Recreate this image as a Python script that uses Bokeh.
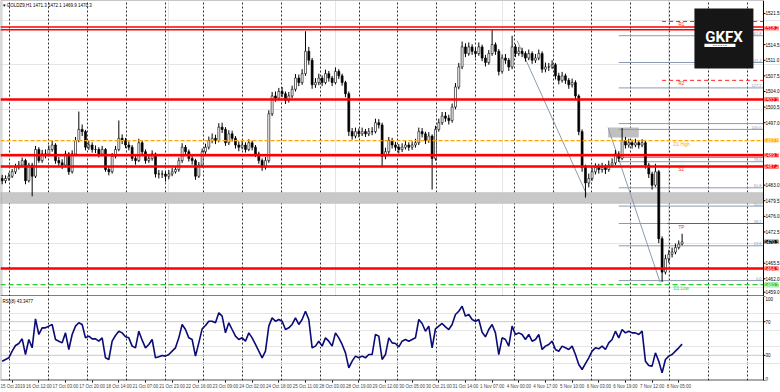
from bokeh.plotting import figure
from bokeh.layouts import column
from bokeh.models import (Range1d, FixedTicker, Label, BoxAnnotation, ColumnDataSource, Grid)
from bokeh.core.properties import value
from bokeh.embed import file_html
from bokeh.resources import INLINE

# ---------------- data (2-hour bars) ----------------
close = [
    1484.0, 1484.5, 1485.0, 1486.0, 1487.0, 1487.5, 1488.5, 1484.0, 1487.5, 1485.0,
    1491.0, 1488.5, 1490.0, 1490.0, 1491.0, 1492.0, 1488.5, 1488.0, 1487.5, 1490.0,
    1486.0, 1490.0, 1493.0, 1495.5, 1495.0, 1491.5, 1492.0, 1491.0, 1491.0, 1490.0,
    1491.0, 1486.5, 1486.0, 1489.5, 1491.0, 1493.5, 1493.0, 1492.0, 1491.5, 1489.0,
    1488.5, 1492.5, 1490.5, 1488.5, 1489.0, 1490.0, 1485.5, 1485.5, 1485.5, 1485.0,
    1485.5, 1486.0, 1486.5, 1488.5, 1491.5, 1490.5, 1489.0, 1488.5, 1485.0, 1487.5,
    1490.5, 1491.5, 1493.0, 1493.5, 1493.0, 1496.0, 1495.5, 1492.5, 1494.5, 1493.5,
    1492.0, 1491.5, 1492.0, 1491.0, 1492.5, 1491.5, 1490.0, 1488.5, 1487.0, 1488.5,
    1499.0, 1503.0, 1502.5, 1504.0, 1503.5, 1502.0, 1503.0, 1504.5, 1507.0, 1506.0,
    1508.0, 1513.0, 1511.0, 1505.5, 1506.0, 1507.0, 1506.0, 1508.0, 1507.0, 1506.0,
    1508.5, 1507.5, 1506.0, 1503.5, 1495.0, 1494.0, 1495.0, 1494.5, 1495.0, 1494.5,
    1495.0, 1495.0, 1497.0, 1496.5, 1489.5, 1490.5, 1493.0, 1492.0, 1491.5, 1491.0,
    1491.5, 1492.0, 1491.5, 1492.0, 1492.5, 1495.0, 1494.5, 1493.0, 1494.0, 1489.0,
    1495.5, 1497.0, 1498.5, 1498.0, 1497.5, 1500.5, 1505.0, 1509.5, 1514.0, 1512.5,
    1514.0, 1513.0, 1512.5, 1514.0, 1511.5, 1510.5, 1512.5, 1514.5, 1513.0, 1508.5,
    1511.5, 1511.0, 1509.5, 1514.0, 1512.5, 1513.0, 1512.5, 1511.5, 1512.5, 1511.0,
    1511.5, 1512.5, 1509.0, 1509.5, 1509.5, 1510.0, 1507.5, 1506.5, 1507.5, 1506.5,
    1505.5, 1506.0, 1503.0, 1495.0, 1487.0, 1483.5, 1484.5, 1486.0, 1487.0, 1486.5,
    1487.0, 1486.5, 1487.5, 1488.0, 1490.0, 1489.0, 1493.0, 1492.0, 1492.5, 1492.0,
    1492.5, 1492.0, 1492.5, 1487.5, 1485.5, 1483.0, 1486.0, 1471.0, 1463.5, 1466.5,
    1467.5, 1468.0, 1469.0, 1469.8, 1470.3]
high = [
    1485.3, 1485.2, 1485.8, 1486.6, 1487.8, 1488.4, 1489.2, 1488.9, 1488.0, 1488.0,
    1491.8, 1491.5, 1490.9, 1491.0, 1491.9, 1493.0, 1492.4, 1489.3, 1488.8, 1490.7,
    1490.4, 1490.8, 1493.8, 1499.5, 1496.6, 1495.4, 1493.0, 1492.6, 1491.9, 1491.5,
    1491.8, 1491.3, 1487.2, 1490.2, 1491.8, 1497.5, 1494.4, 1493.6, 1492.8, 1492.0,
    1489.8, 1493.4, 1493.0, 1491.0, 1489.9, 1490.8, 1490.3, 1486.4, 1486.3, 1486.0,
    1486.4, 1486.9, 1487.3, 1489.2, 1492.4, 1492.0, 1491.0, 1489.7, 1488.9, 1488.2,
    1491.2, 1492.3, 1493.9, 1494.6, 1494.3, 1496.9, 1497.0, 1496.0, 1495.3, 1495.2,
    1494.0, 1492.8, 1492.9, 1492.6, 1493.3, 1493.0, 1492.0, 1490.5, 1489.0, 1489.3,
    1499.8, 1503.9, 1504.0, 1504.8, 1505.0, 1504.0, 1503.9, 1505.3, 1507.9, 1507.8,
    1509.0, 1517.5, 1514.0, 1511.5, 1507.0, 1508.0, 1507.6, 1508.9, 1508.6, 1507.5,
    1509.4, 1509.0, 1508.0, 1506.4, 1504.0, 1495.8, 1495.9, 1495.7, 1495.9, 1495.6,
    1495.8, 1496.0, 1497.9, 1497.8, 1497.0, 1491.4, 1493.8, 1493.6, 1492.7, 1492.2,
    1492.4, 1492.9, 1492.6, 1492.8, 1493.4, 1495.9, 1495.8, 1495.0, 1494.9, 1494.4,
    1496.3, 1497.9, 1499.4, 1499.4, 1498.8, 1501.3, 1505.9, 1510.4, 1515.2, 1514.8,
    1515.0, 1514.6, 1513.8, 1515.0, 1514.5, 1512.2, 1513.3, 1517.8, 1515.0, 1513.5,
    1512.3, 1512.4, 1511.5, 1516.5, 1514.6, 1514.0, 1513.8, 1513.0, 1513.4, 1513.0,
    1512.4, 1513.4, 1513.0, 1510.5, 1510.4, 1511.0, 1510.4, 1508.2, 1508.4, 1508.0,
    1507.0, 1506.9, 1506.5, 1503.4, 1495.5, 1487.6, 1485.6, 1486.9, 1487.9, 1487.8,
    1488.0, 1487.7, 1488.5, 1489.0, 1490.9, 1490.6, 1495.8, 1493.8, 1493.4, 1493.2,
    1493.4, 1493.1, 1493.3, 1492.9, 1488.0, 1486.0, 1487.8, 1486.4, 1471.5, 1467.4,
    1468.4, 1469.0, 1469.9, 1470.6, 1472.1]
low = [
    1483.2, 1483.4, 1484.0, 1484.6, 1485.5, 1486.5, 1487.0, 1483.2, 1483.6, 1480.5,
    1484.6, 1488.0, 1488.0, 1489.0, 1489.6, 1490.5, 1487.8, 1487.2, 1486.6, 1487.0,
    1485.3, 1485.6, 1489.5, 1492.6, 1494.0, 1490.8, 1490.9, 1490.3, 1490.2, 1489.2,
    1489.5, 1486.0, 1485.2, 1485.6, 1489.0, 1490.6, 1492.2, 1491.3, 1490.8, 1488.4,
    1487.6, 1488.2, 1489.9, 1487.8, 1488.0, 1488.5, 1484.7, 1484.5, 1484.6, 1483.8,
    1484.3, 1485.0, 1485.6, 1486.0, 1488.0, 1489.8, 1488.3, 1487.6, 1484.2, 1484.6,
    1487.0, 1490.0, 1491.0, 1492.4, 1492.2, 1492.6, 1494.7, 1491.8, 1492.0, 1492.8,
    1491.2, 1490.6, 1491.0, 1490.3, 1490.6, 1490.8, 1489.3, 1487.8, 1486.2, 1486.5,
    1488.0, 1498.5, 1501.7, 1502.0, 1502.7, 1501.2, 1501.5, 1502.5, 1504.0, 1505.2,
    1505.5, 1507.5, 1510.0, 1504.6, 1504.8, 1505.4, 1505.2, 1505.6, 1506.2, 1505.2,
    1505.6, 1506.8, 1505.3, 1502.7, 1494.0, 1493.2, 1493.5, 1493.7, 1494.0, 1493.8,
    1494.0, 1494.2, 1494.6, 1495.7, 1487.0, 1488.8, 1490.0, 1491.2, 1490.7, 1490.1,
    1490.4, 1491.0, 1490.7, 1490.9, 1491.4, 1492.0, 1493.7, 1492.2, 1492.5, 1482.0,
    1488.5, 1495.0, 1496.5, 1497.2, 1496.6, 1497.0, 1500.0, 1504.5, 1509.0, 1511.7,
    1512.0, 1512.2, 1511.6, 1512.0, 1510.8, 1509.6, 1510.0, 1512.0, 1512.2, 1507.6,
    1508.0, 1510.2, 1508.6, 1509.0, 1511.7, 1512.0, 1511.7, 1510.7, 1511.0, 1510.2,
    1510.4, 1511.0, 1508.2, 1508.3, 1508.6, 1509.0, 1506.7, 1505.6, 1506.0, 1505.7,
    1504.6, 1504.9, 1502.2, 1494.2, 1486.0, 1480.2, 1482.5, 1484.0, 1485.4, 1485.6,
    1485.8, 1485.5, 1486.0, 1487.0, 1487.5, 1488.2, 1488.6, 1491.2, 1491.4, 1491.2,
    1491.5, 1491.2, 1491.5, 1486.7, 1484.6, 1482.0, 1482.6, 1470.0, 1461.3, 1463.0,
    1465.6, 1466.8, 1467.5, 1468.6, 1469.5]
first_open = 1484.5

rsi = [
    23.0, 25.0, 27.0, 34.9, 41.7, 44.0, 49.6, 30.9, 48.8, 38.9,
    73.4, 54.8, 62.7, 62.7, 64.7, 66.7, 48.8, 46.8, 44.8, 56.7,
    36.9, 54.8, 64.7, 68.7, 66.7, 50.8, 52.8, 49.6, 49.6, 46.8,
    50.8, 27.0, 25.0, 46.8, 53.6, 58.7, 56.7, 52.0, 50.8, 40.9,
    38.9, 58.7, 48.0, 38.9, 42.9, 48.8, 27.0, 28.2, 29.8, 29.0,
    30.9, 34.9, 38.9, 50.8, 66.7, 60.7, 50.8, 48.8, 29.0, 44.8,
    61.5, 65.5, 70.6, 70.6, 68.7, 80.6, 76.6, 56.7, 68.7, 60.7,
    52.8, 48.8, 50.8, 46.8, 56.7, 50.8, 42.9, 34.9, 27.0, 34.9,
    64.7, 74.6, 70.6, 72.6, 70.6, 60.7, 62.7, 66.7, 74.6, 66.7,
    72.6, 82.5, 72.6, 38.9, 40.9, 46.8, 40.9, 50.8, 46.8, 40.9,
    56.7, 50.8, 42.9, 32.9, 15.1, 23.0, 29.0, 27.0, 29.0, 27.0,
    30.9, 30.9, 54.8, 52.8, 25.0, 30.9, 50.8,
    44.8, 44.0, 40.1, 46.8, 48.8, 46.8, 48.8, 50.8, 72.6, 67.9,
    58.7, 64.7, 38.9, 61.5, 64.7, 67.9, 63.9, 60.7, 66.7, 78.6,
    82.5, 88.5, 76.6, 78.6, 72.6, 70.6, 72.6, 57.5, 52.0, 60.7,
    66.7, 56.7, 30.9, 50.8, 48.8, 40.9, 64.7, 54.8, 56.7, 54.8,
    48.8, 54.8, 46.8, 48.8, 54.8, 36.9, 40.9, 42.9, 46.8, 36.9,
    34.9, 40.9, 38.9, 36.9, 40.9, 30.9, 19.0, 13.1, 20.2, 27.0,
    34.9, 38.9, 37.7, 40.9, 36.9, 44.8, 48.8, 58.7, 50.8, 60.7,
    56.7, 58.7, 56.7, 56.7, 54.8, 58.7, 23.0, 17.9, 17.1, 32.9,
    23.0, 9.1, 25.0, 29.0, 30.9, 34.9, 38.9, 43.3]

time_labels = ["15 Oct 2019", "16 Oct 12:00", "17 Oct 03:00", "17 Oct 20:00", "18 Oct 14:00",
               "21 Oct 07:00", "21 Oct 23:00", "22 Oct 16:00", "23 Oct 09:00", "24 Oct 02:00",
               "24 Oct 18:00", "25 Oct 11:00", "28 Oct 03:00", "28 Oct 19:00", "29 Oct 12:00",
               "30 Oct 05:00", "30 Oct 21:00", "31 Oct 14:00", "1 Nov 07:00", "4 Nov 00:00",
               "4 Nov 17:00", "5 Nov 10:00", "6 Nov 03:00", "6 Nov 19:00", "7 Nov 12:00",
               "8 Nov 05:00"]
price_ticks = [1521.5, 1514.5, 1511.0, 1507.5, 1504.0, 1500.5, 1497.0,
               1483.0, 1479.5, 1476.0, 1472.5, 1465.5, 1462.0, 1459.0]
rsi_ticks = [0, 30, 70, 100]

# chart objects (levels)
red_levels = [1502.2, 1489.7, 1487.2, 1464.3]
red_zone_top = [1517.85, 1518.45]
red_zone_label = 1518.2
d1_high = 1493.0
d1_low = 1460.7
last_price = 1470.3
grey_band = (1478.9, 1481.35)
grey_box = (181.8, 191.0, 1493.7, 1495.9)
fib_prices = [1516.5, 1510.5, 1504.8, 1496.8, 1495.5, 1489.2, 1488.25, 1482.4, 1478.3, 1474.4, 1469.4, 1461.6]
fib_texts = ["161.8", "141.4", "127.2", "", "100.0", "", "78.6", "61.8", "50.0", "38.2", "23.6", "0.0"]
fib_start = 185
pivot_prices = [1519.7, 1506.5]
pivot_texts = ["R1", "R2"]
pivot_start = 198
tp_price = 1474.4
tp_start = 199.5
trend_lines = [(154.5, 1515.4, 175.5, 1480.7), (181.8, 1495.9, 197.4, 1461.2)]

# ---------------- layout constants ----------------
W = 780
AXIS_PX = 763
BAR_PX = 3.333
X0 = -0.5
X1 = X0 + W / BAR_PX          # right end of the frame (window edge)
XA = X0 + AXIS_PX / BAR_PX    # price-axis line position
TICK = 2 / BAR_PX
Y_HI = 1524.4
Y_LO = Y_HI - 296 / 4.46
FONT = "Liberation Sans"

n = len(close)
idx = list(range(n))
opn = [first_open] + close[:-1]
src = ColumnDataSource(dict(
    x=idx, high=high, low=low,
    top=[max(o, c) for o, c in zip(opn, close)],
    bot=[min(o, c) for o, c in zip(opn, close)],
    fill=["white" if c >= o else "black" for o, c in zip(opn, close)],
))

xr = Range1d(X0, X1)
grid_x = [2.35 + 11.64 * k for k in range(20)]


def hline(p, y, x0=X0, x1=XA, **kw):
    p.segment(x0=[x0], x1=[x1], y0=[y], y1=[y], **kw)


def right_axis(p, ticks, labels, y_lo, y_hi, size, baselines=None):
    p.segment(x0=[XA], x1=[XA], y0=[y_lo], y1=[y_hi], line_color="black", line_width=1)
    p.segment(x0=[XA] * len(ticks), x1=[XA + TICK] * len(ticks), y0=ticks, y1=ticks,
              line_color="black", line_width=1)
    if baselines is None:
        baselines = ["middle"] * len(ticks)
    p.text(x=[XA] * len(ticks), y=ticks, text=labels, x_offset=2, text_align="left",
           text_baseline=baselines, text_font=value(FONT), text_font_size=value(size),
           text_color="black")


# ---------------- main price panel ----------------
p1 = figure(frame_width=W, frame_height=296, x_range=xr, y_range=Range1d(Y_LO, Y_HI),
            x_axis_location=None, y_axis_location=None, toolbar_location=None,
            output_backend="svg", min_border=0, title=None)
p1.background_fill_color = "white"
p1.border_fill_color = "white"
p1.outline_line_color = None
p1.add_layout(Grid(dimension=0, ticker=FixedTicker(ticks=grid_x),
                   grid_line_color="#303030", grid_line_dash="2 2", grid_line_width=1))

# frame edges
hline(p1, Y_HI, line_color="#909090", line_width=1)
p1.segment(x0=[X0 + 0.1], x1=[X0 + 0.1], y0=[Y_LO], y1=[Y_HI], line_color="#909090", line_width=1)
hline(p1, Y_LO, line_color="black", line_width=2)

# zones
p1.add_layout(BoxAnnotation(left=X0, right=XA, bottom=grey_band[0], top=grey_band[1],
                            fill_color="#C8C8C8", fill_alpha=1, line_color="#A8A8A8",
                            line_width=1, level="underlay"))
p1.add_layout(BoxAnnotation(left=grey_box[0], right=grey_box[1], bottom=grey_box[2], top=grey_box[3],
                            fill_color="#C0C0C0", fill_alpha=1, line_color=None, level="underlay"))

# fib lines
p1.segment(x0=[fib_start] * len(fib_prices), x1=[XA] * len(fib_prices), y0=fib_prices, y1=fib_prices,
           line_color="#8C9AAE", line_width=1)
for fp, ft in zip(fib_prices, fib_texts):
    if ft:
        p1.add_layout(Label(x=XA, y=fp, x_offset=-2, y_offset=0.5, text=ft, text_align="right",
                            text_baseline="bottom", text_font=FONT, text_font_size="4px",
                            text_color="#8C9AAE"))

# trend lines
for (xa_, ya_, xb_, yb_) in trend_lines:
    p1.segment(x0=[xa_], y0=[ya_], x1=[xb_], y1=[yb_], line_color="#8C9AAE", line_width=1)

# candles
p1.segment(x0="x", y0="low", x1="x", y1="high", source=src, line_color="black", line_width=1)
p1.vbar(x="x", width=0.6, top="top", bottom="bot", fill_color="fill", line_color="black",
        line_width=0.6, source=src)

# horizontal levels
for lv in red_levels:
    hline(p1, lv, line_color="#FF0000", line_width=2.5)
for lv in red_zone_top:
    hline(p1, lv, line_color="#FF0000", line_width=1.4)
hline(p1, d1_high, line_color="#FFA500", line_width=1.2, line_dash="4 2")
hline(p1, d1_low, line_color="#32CD32", line_width=1.2, line_dash="5 3")
p1.segment(x0=[pivot_start] * 2, x1=[XA] * 2, y0=pivot_prices, y1=pivot_prices,
           line_color="#FF2020", line_width=1, line_dash="4 3")
hline(p1, tp_price, x0=tp_start, line_color="#FF2020", line_width=1.2)


def small_text(x, y, t, col, off=-1):
    p1.add_layout(Label(x=x, y=y, y_offset=off, text=t, text_baseline="top", text_font=FONT,
                        text_font_size="4.5px", text_color=col))


for pp, pt in zip(pivot_prices, pivot_texts):
    small_text(202.9, pp, pt, "#FF2020")
small_text(202.9, tp_price, "TP", "#FF2020")
small_text(202.9, red_levels[2], "S1", "#FF2020")
small_text(201.4, d1_high, "D1 High", "#FFA500")
small_text(201.4, d1_low, "D1 Low", "#32CD32")

# header
p1.add_layout(Label(x=X0, y=Y_HI, x_offset=2, y_offset=-2,
                    text="\u25be GOLDZ9,H1  1471.3 1472.1 1469.9 1470.3",
                    text_baseline="top", text_font=FONT, text_font_size="4.5px", text_color="black"))

# price axis
right_axis(p1, price_ticks, ["%.1f" % v for v in price_ticks], Y_LO, Y_HI, "4.6px")

# logo
p1.add_layout(BoxAnnotation(left=207.7, right=225.4, bottom=1509.15, top=1522.6,
                            fill_color="#161616", fill_alpha=1, line_color=None, level="overlay"))
p1.add_layout(Label(x=216.6, y=1516.3, text="GKFX", text_align="center", text_baseline="middle",
                    text_font="Roboto", text_font_style="bold", text_font_size="15px",
                    text_color="white", level="overlay"))
p1.add_layout(BoxAnnotation(left=210.7, right=220.0, bottom=1514.0, top=1514.7,
                            fill_color="white", fill_alpha=1, line_color=None, level="overlay"))
p1.add_layout(Label(x=215.35, y=1514.35, text="E U R O P E", text_align="center",
                    text_baseline="middle", text_font=FONT, text_font_size="2.5px",
                    text_color="black", level="overlay"))


# coloured price tags on the axis
def axis_tag(y, txt, bg, fg="white"):
    p1.add_layout(Label(x=XA, y=y, x_offset=1, text=txt, text_align="left", text_baseline="middle",
                        text_font=FONT, text_font_size="4.6px", text_color=fg,
                        background_fill_color=bg, background_fill_alpha=1, level="overlay"))


axis_tag(red_zone_label, "%.1f" % red_zone_label, "#FF0000")
for lv in red_levels:
    axis_tag(lv, "%.1f" % lv, "#FF0000")
axis_tag(d1_high, "%.1f" % d1_high, "#FFA500")
axis_tag(d1_low, "%.1f" % d1_low, "#32CD32")
axis_tag(last_price, "%.1f" % last_price, "black")

# ---------------- RSI panel ----------------
p2 = figure(frame_width=W, frame_height=84, x_range=xr, y_range=Range1d(0, 100),
            y_axis_location=None, toolbar_location=None, output_backend="svg",
            min_border=0, title=None)
p2.background_fill_color = "white"
p2.border_fill_color = "white"
p2.outline_line_color = None
p2.xgrid.ticker = FixedTicker(ticks=grid_x)
p2.xgrid.grid_line_color = "#303030"
p2.xgrid.grid_line_dash = "2 2"
hline(p2, 70, line_color="#C8C8C8", line_width=1)
hline(p2, 30, line_color="#C8C8C8", line_width=1)
hline(p2, 0.4, line_color="black", line_width=1)
p2.segment(x0=[X0 + 0.1], x1=[X0 + 0.1], y0=[0], y1=[100], line_color="#909090", line_width=1)
p2.line(idx, rsi, line_color="#0A0A78", line_width=1.6)
p2.add_layout(Label(x=X0, y=100, x_offset=2, y_offset=-2, text="RSI(8) 43.3477", text_baseline="top",
                    text_font=FONT, text_font_size="4.5px", text_color="black"))
right_axis(p2, rsi_ticks, [str(v) for v in rsi_ticks], 0, 100, "4.5px",
           baselines=["bottom", "middle", "middle", "top"])

tick_pos = [8 * k + 3 for k in range(len(time_labels))]
xa = p2.xaxis[0]
xa.ticker = FixedTicker(ticks=tick_pos)
xa.major_label_overrides = {t: lab for t, lab in zip(tick_pos, time_labels)}
xa.major_label_text_font_size = "4.5px"
xa.major_label_text_font = FONT
xa.major_label_standoff = 1
xa.major_tick_out = 2
xa.major_tick_in = 0
xa.minor_tick_out = 0
xa.minor_tick_in = 0
xa.axis_line_color = None

layout = column(p1, p2)
open("out.html", "w").write(file_html(layout, INLINE))
